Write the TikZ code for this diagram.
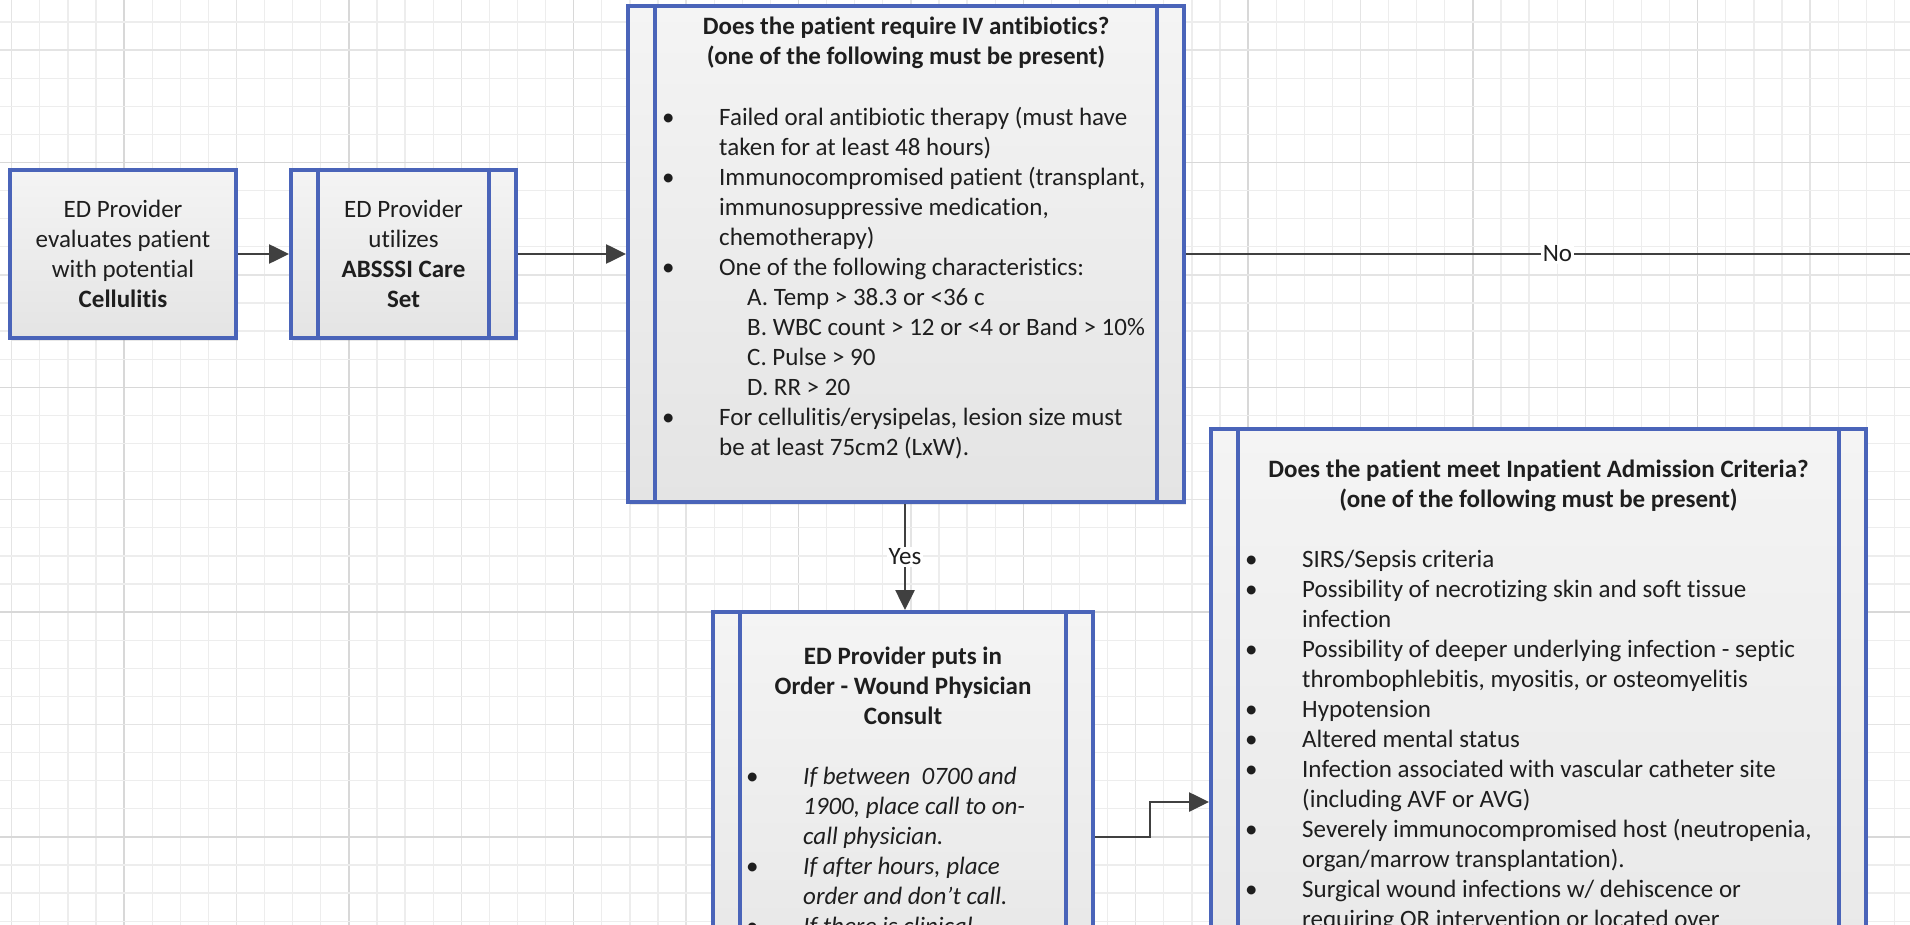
\documentclass[tikz,border=0pt]{standalone}
\usepackage{fontspec}
\setmainfont{Carlito}[Ligatures=NoCommon]
\usetikzlibrary{arrows.meta,shadows,calc}

\definecolor{boxblue}{RGB}{74,100,185}
\definecolor{connclr}{RGB}{64,64,64}
\definecolor{gridminor}{RGB}{237,237,237}
\definecolor{gridmid}{RGB}{228,228,228}
\definecolor{gridmajor}{RGB}{216,216,216}
\definecolor{filltop}{RGB}{244,244,244}
\definecolor{fillbot}{RGB}{228,228,228}
\definecolor{textdark}{RGB}{30,30,30}

% bullet and continuation indents for the criteria lists
\newcommand\bl{\makebox[57pt][l]{\textbullet}}
\newcommand\ind{\hspace*{57pt}}
\newcommand\sub{\hspace*{85pt}}

\tikzset{
  procbox/.style={rectangle, draw=boxblue, line width=4pt,
    top color=filltop, bottom color=fillbot, inner sep=0pt,
    drop shadow={shadow xshift=2pt, shadow yshift=-3pt, opacity=0.18}},
  txt/.style={font=\fontsize{25}{30}\selectfont, text=textdark, inner sep=0pt},
  connector/.style={draw=connclr, line width=2.6pt,
    -{Triangle[length=20pt,width=19pt]}},
  connline/.style={draw=connclr, line width=2.6pt},
  lbl/.style={font=\fontsize{25}{30}\selectfont, text=textdark, fill=white,
    inner sep=2pt}
}

% inner side bars of a predefined-process box
\newcommand\sidebars[1]{%
  \draw[boxblue, line width=4pt]
    ([xshift=29pt]#1.north west) -- ([xshift=29pt]#1.south west)
    ([xshift=-29pt]#1.north east) -- ([xshift=-29pt]#1.south east);}

\begin{document}
\begin{tikzpicture}[x=1pt, y=-1pt]
\useasboundingbox (0,0) rectangle (1910,925);
\fill[white] (0,0) rectangle (1910,925);

% background grid
\foreach \k in {0,...,67}{
  \pgfmathtruncatemacro\m{mod(\k,8)}
  \ifnum\m=4 \def\gc{gridmajor}\else\ifnum\m=0 \def\gc{gridmid}\else\def\gc{gridminor}\fi\fi
  \draw[color=\gc, line width=1.3pt] (11.7+28.1*\k,0) -- (11.7+28.1*\k,925);
}
\foreach \j in {0,...,32}{
  \pgfmathtruncatemacro\m{mod(\j,8)}
  \ifnum\m=5 \def\gc{gridmajor}\else\ifnum\m=1 \def\gc{gridmid}\else\def\gc{gridminor}\fi\fi
  \draw[color=\gc, line width=1.3pt] (0,22+28.1*\j) -- (1910,22+28.1*\j);
}

% process boxes
\node[procbox, minimum width=226pt, minimum height=168pt] (b1) at (123,254) {};
\node[procbox, minimum width=225pt, minimum height=168pt] (b2) at (403.5,254) {};
\node[procbox, minimum width=556pt, minimum height=496pt] (b3) at (906,254) {};
\node[procbox, minimum width=380pt, minimum height=450pt] (b4) at (903,837) {};
\node[procbox, minimum width=655pt, minimum height=746pt] (b5) at (1538.5,802) {};
\sidebars{b2}
\sidebars{b3}
\sidebars{b4}
\sidebars{b5}

% box texts
\node[txt, align=center] (t1) at (b1.center)
  {ED Provider\\evaluates patient\\with potential\\\textbf{Cellulitis}};
\node[txt, align=center] (t2) at (b2.center)
  {ED Provider\\utilizes\\\textbf{ABSSSI Care}\\\textbf{Set}};

\node[txt, font=\fontsize{25}{30}\selectfont\bfseries, anchor=base] (t3a) at (906,35)
  {\begin{tabular}[t]{@{}c@{}}
   Does the patient require IV antibiotics?\\
   (one of the following must be present)
   \end{tabular}};
\node[txt, anchor=base west] (t3b) at (662,126)
  {\begin{tabular}[t]{@{}l@{}}
   \bl Failed oral antibiotic therapy (must have\\
   \ind taken for at least 48 hours)\\
   \bl Immunocompromised patient (transplant,\\
   \ind immunosuppressive medication,\\
   \ind chemotherapy)\\
   \bl One of the following characteristics:\\
   \sub A. Temp > 38.3 or <36 c\\
   \sub B. WBC count > 12 or <4 or Band > 10\%\\
   \sub C. Pulse > 90\\
   \sub D. RR > 20\\
   \bl For cellulitis/erysipelas, lesion size must\\
   \ind be at least 75cm2 (LxW).
   \end{tabular}};

\node[txt, font=\fontsize{25}{30}\selectfont\bfseries, anchor=base] (t4a) at (903,664)
  {\begin{tabular}[t]{@{}c@{}}
   ED Provider puts in\\
   Order - Wound Physician\\
   Consult
   \end{tabular}};
\node[txt, anchor=base west] (t4b) at (746,784)
  {\begin{tabular}[t]{@{}l@{}}
   \bl\textit{If between\ \ 0700 and}\\
   \ind\textit{1900, place call to on-}\\
   \ind\textit{call physician.}\\
   \bl\textit{If after hours, place}\\
   \ind\textit{order and don’t call.}\\
   \bl\textit{If there is clinical}
   \end{tabular}};

\node[txt, font=\fontsize{25}{30}\selectfont\bfseries, anchor=base] (t5a) at (1538.5,477)
  {\begin{tabular}[t]{@{}c@{}}
   Does the patient meet Inpatient Admission Criteria?\\
   (one of the following must be present)
   \end{tabular}};
\node[txt, anchor=base west] (t5b) at (1245,567)
  {\begin{tabular}[t]{@{}l@{}}
   \bl SIRS/Sepsis criteria\\
   \bl Possibility of necrotizing skin and soft tissue\\
   \ind infection\\
   \bl Possibility of deeper underlying infection - septic\\
   \ind thrombophlebitis, myositis, or osteomyelitis\\
   \bl Hypotension\\
   \bl Altered mental status\\
   \bl Infection associated with vascular catheter site\\
   \ind (including AVF or AVG)\\
   \bl Severely immunocompromised host (neutropenia,\\
   \ind organ/marrow transplantation).\\
   \bl Surgical wound infections w/ dehiscence or\\
   \ind requiring OR intervention or located over
   \end{tabular}};

% connectors
\coordinate (yx) at (905,0);
\coordinate (noend) at (1920,254);
\draw[connector] (b1) -- (b2);
\draw[connector] (b2) -- (b3);
\draw[connline] (b3.east) -- node[lbl, pos=0.506] (lno) {No} (noend);
\draw[connector] (b3.south -| yx) -- node[lbl] (lyes) {Yes} (b4.north -| yx);
\draw[connector] (b4.east) -- ++(55,0) |- (b5.west);
\end{tikzpicture}
\end{document}
